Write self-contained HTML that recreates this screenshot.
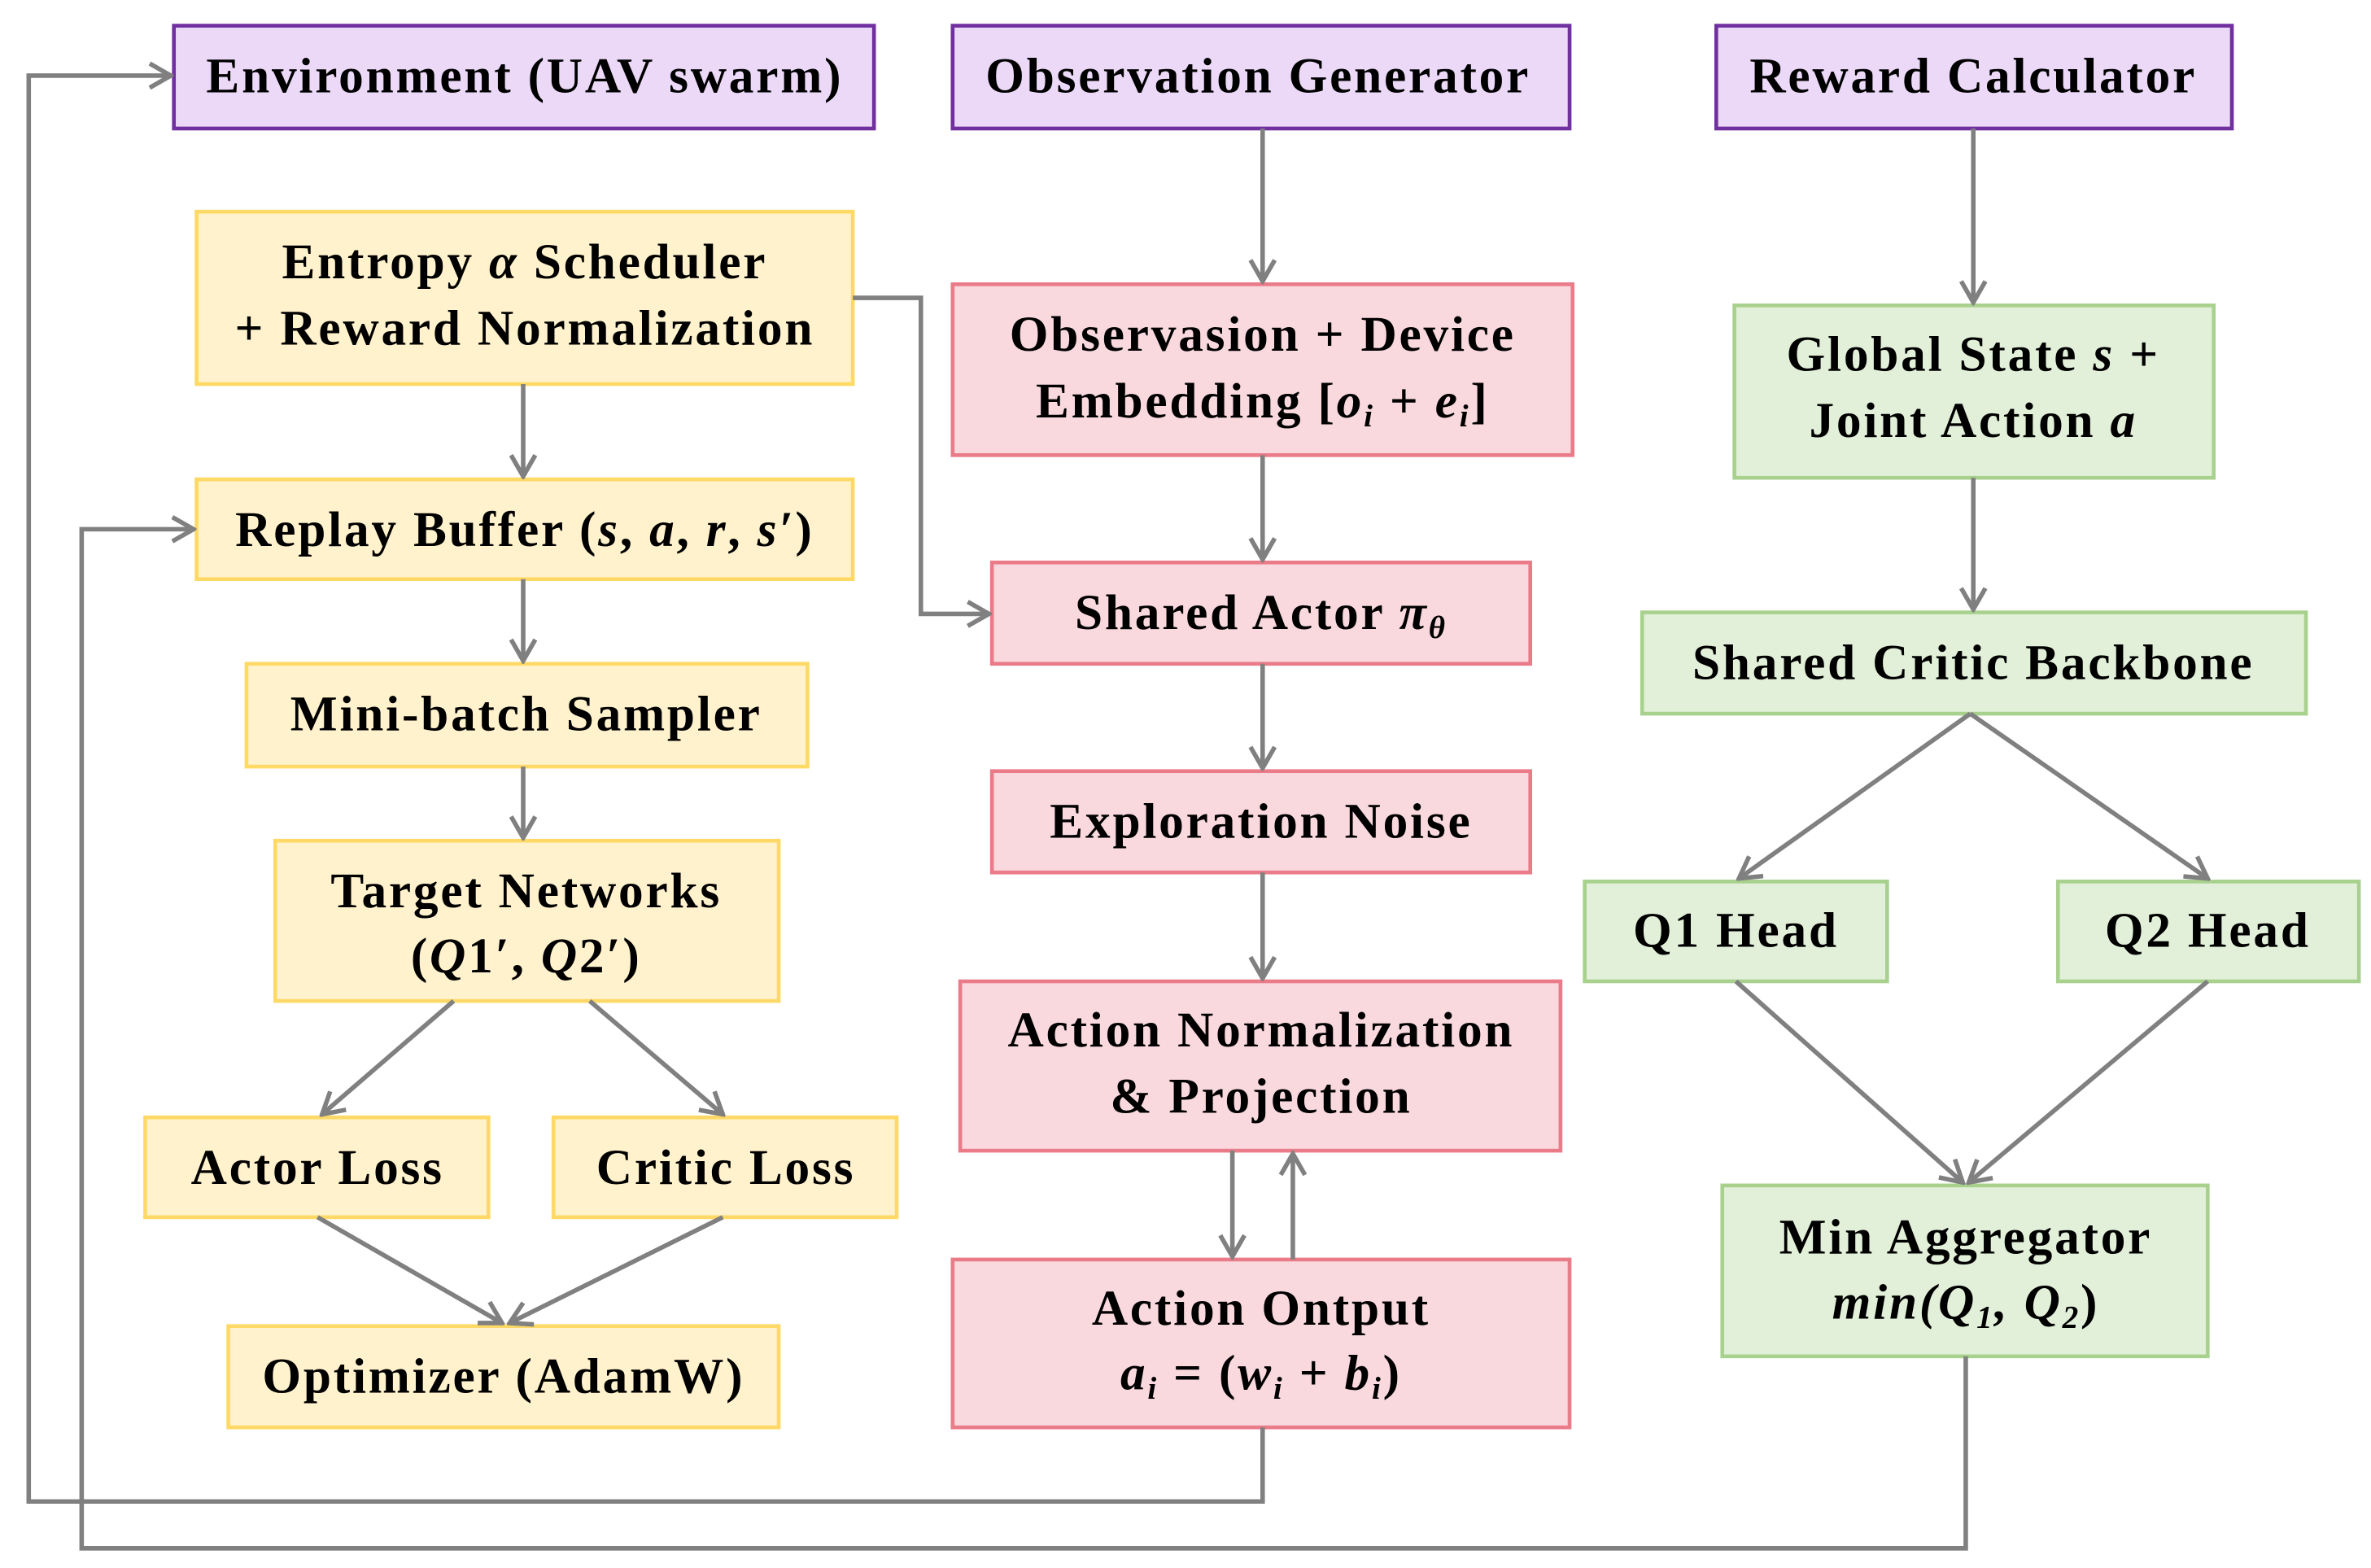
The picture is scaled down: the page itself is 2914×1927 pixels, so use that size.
<!DOCTYPE html>
<html><head><meta charset="utf-8"><style>
html,body{margin:0;padding:0;background:#fff;}
svg{display:block}
text{font-family:"Liberation Serif",serif;font-weight:bold;font-size:33px;letter-spacing:1.5px;fill:#000;text-anchor:middle;}
.m{font-style:italic}
</style></head><body>
<svg width="2914" height="1927" viewBox="0 0 1568 1037" preserveAspectRatio="none" xmlns="http://www.w3.org/2000/svg">
<defs>
<marker id="a" viewBox="0 0 20 20" refX="18" refY="10" markerWidth="20" markerHeight="20" markerUnits="userSpaceOnUse" orient="auto">
<polyline points="4,2 18,10 4,18" fill="none" stroke="#808080" stroke-width="3"/>
</marker>
</defs>
<g stroke-width="2.5">
<g fill="#ecd9f7" stroke="#7030a0">
<rect x="115" y="17" width="463" height="68"/>
<rect x="630" y="17" width="408" height="68"/>
<rect x="1135" y="17" width="341" height="68"/>
</g>
<g fill="#fff2cc" stroke="#ffd966">
<rect x="130" y="140" width="434" height="114"/>
<rect x="130" y="317" width="434" height="66"/>
<rect x="163" y="439" width="371" height="68"/>
<rect x="182" y="556" width="333" height="106"/>
<rect x="96" y="739" width="227" height="66"/>
<rect x="366" y="739" width="227" height="66"/>
<rect x="151" y="877" width="364" height="67"/>
</g>
<g fill="#f9d9de" stroke="#ea7b89">
<rect x="630" y="188" width="410" height="113"/>
<rect x="656" y="372" width="356" height="67"/>
<rect x="656" y="510" width="356" height="67"/>
<rect x="635" y="649" width="397" height="112"/>
<rect x="630" y="833" width="408" height="111"/>
</g>
<g fill="#e2f0d9" stroke="#a9d18e">
<rect x="1147" y="202" width="317" height="114"/>
<rect x="1086" y="405" width="439" height="67"/>
<rect x="1048" y="583" width="200" height="66"/>
<rect x="1361" y="583" width="199" height="66"/>
<rect x="1139" y="784" width="321" height="113"/>
</g>
</g>
<g stroke="#808080" stroke-width="3" fill="none" marker-end="url(#a)">
<line x1="346" y1="254" x2="346" y2="315"/>
<line x1="346" y1="383" x2="346" y2="437"/>
<line x1="346" y1="507" x2="346" y2="554"/>
<line x1="300" y1="662" x2="213" y2="737"/>
<line x1="390" y1="662" x2="478" y2="737"/>
<line x1="210" y1="805" x2="332" y2="875"/>
<line x1="478" y1="805" x2="337" y2="875"/>
<polyline points="564,197 609,197 609,406 654,406"/>
<line x1="835" y1="85" x2="835" y2="186"/>
<line x1="835" y1="301" x2="835" y2="370"/>
<line x1="835" y1="439" x2="835" y2="508"/>
<line x1="835" y1="577" x2="835" y2="647"/>
<line x1="815" y1="761" x2="815" y2="831"/>
<line x1="855" y1="833" x2="855" y2="763"/>
<polyline points="835,944 835,993 19,993 19,50 113,50"/>
<polyline points="1300,897 1300,1024 54,1024 54,350 128,350"/>
<line x1="1305" y1="85" x2="1305" y2="200"/>
<line x1="1305" y1="316" x2="1305" y2="403"/>
<line x1="1303" y1="472" x2="1150" y2="581"/>
<line x1="1303" y1="472" x2="1460" y2="581"/>
<line x1="1148" y1="649" x2="1298" y2="782"/>
<line x1="1460" y1="649" x2="1302" y2="782"/>
</g>
<text x="347" y="61">Environment (UAV swarm)</text>
<text x="832" y="61">Observation Generator</text>
<text x="1305" y="61">Reward Calculator</text>
<text x="347" y="184">Entropy <tspan class="m">α</tspan> Scheduler</text>
<text x="347" y="228">+ Reward Normalization</text>
<text x="347" y="361">Replay Buffer (<tspan class="m">s</tspan>, <tspan class="m">a</tspan>, <tspan class="m">r</tspan>, <tspan class="m">s′</tspan>)</text>
<text x="348" y="483">Mini-batch Sampler</text>
<text x="348" y="600">Target Networks</text>
<text x="348" y="643">(<tspan class="m">Q</tspan>1′, <tspan class="m">Q</tspan>2′)</text>
<text x="210" y="783">Actor Loss</text>
<text x="480" y="783">Critic Loss</text>
<text x="333" y="921">Optimizer (AdamW)</text>
<text x="835" y="232">Observasion + Device</text>
<text x="835" y="276">Embedding [<tspan class="m">o<tspan font-size="21" dy="6">i</tspan></tspan><tspan dy="-6"> + </tspan><tspan class="m">e<tspan font-size="21" dy="6">i</tspan></tspan><tspan dy="-6">]</tspan></text>
<text x="834" y="416">Shared Actor <tspan class="m">π<tspan font-size="21" dy="6">θ</tspan></tspan></text>
<text x="834" y="554">Exploration Noise</text>
<text x="834" y="692">Action Normalization</text>
<text x="834" y="736">&amp; Projection</text>
<text x="834" y="876">Action Ontput</text>
<text x="834" y="919"><tspan class="m">a<tspan font-size="21" dy="6">i</tspan></tspan><tspan dy="-6">  =  (</tspan><tspan class="m">w<tspan font-size="21" dy="6">i</tspan></tspan><tspan dy="-6">  +  </tspan><tspan class="m">b<tspan font-size="21" dy="6">i</tspan></tspan><tspan dy="-6">)</tspan></text>
<text x="1305" y="245">Global State <tspan class="m">s</tspan> +</text>
<text x="1305" y="289">Joint Action <tspan class="m">a</tspan></text>
<text x="1305" y="449">Shared Critic Backbone</text>
<text x="1148" y="626">Q1 Head</text>
<text x="1460" y="626">Q2 Head</text>
<text x="1300" y="829">Min Aggregator</text>
<text x="1300" y="872" class="m">min(Q<tspan font-size="21" dy="6">1</tspan><tspan dy="-6">, Q</tspan><tspan font-size="21" dy="6">2</tspan><tspan dy="-6" font-style="normal">)</tspan></text>
</svg>
</body></html>
